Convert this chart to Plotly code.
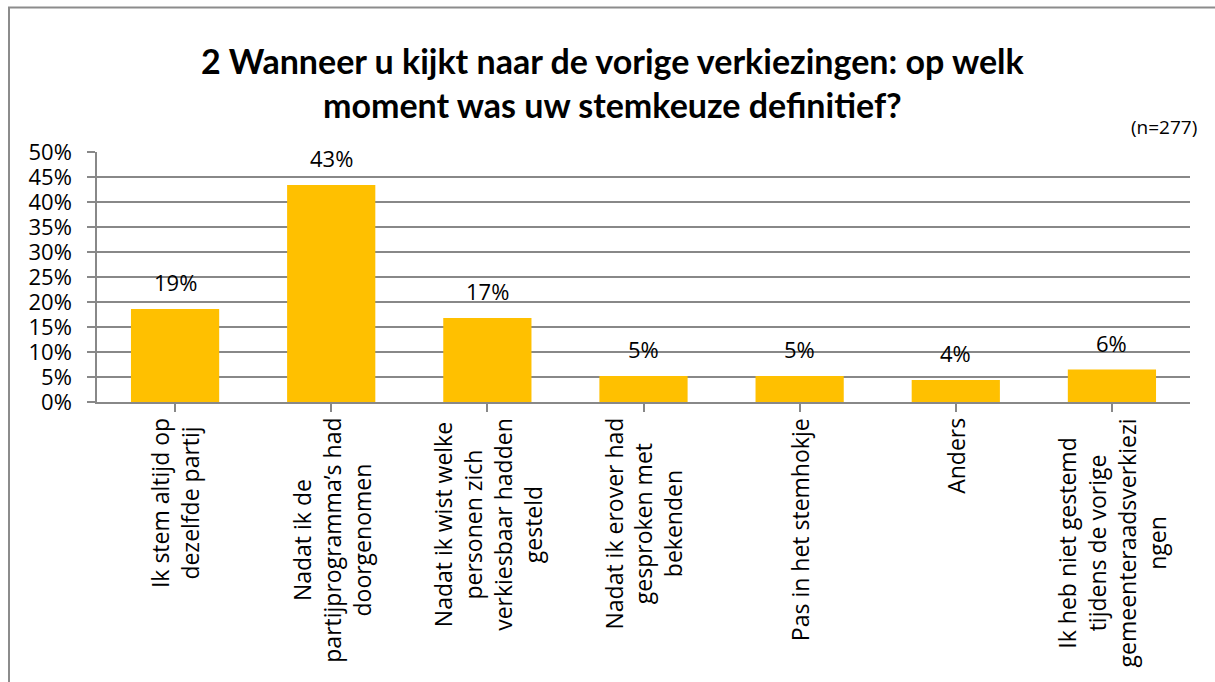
import plotly.graph_objects as go

categories = [
    "Ik stem altijd op<br>dezelfde partij",
    "Nadat ik de<br>partijprogramma’s had<br>doorgenomen",
    "Nadat ik wist welke<br>personen zich<br>verkiesbaar hadden<br>gesteld",
    "Nadat ik erover had<br>gesproken met<br>bekenden",
    "Pas in het stemhokje",
    "Anders",
    "Ik heb niet gestemd<br>tijdens de vorige<br>gemeenteraadsverkiezi<br>ngen",
]
values = [18.6, 43.4, 16.8, 5.2, 5.2, 4.4, 6.5]
labels = ["19%", "43%", "17%", "5%", "5%", "4%", "6%"]
tick_vals = [0, 5, 10, 15, 20, 25, 30, 35, 40, 45, 50]
tick_text = [f"{v}%" for v in tick_vals]

W, H = 1215, 682
L, R, T, B = 97, 25, 152, 280
pw, ph = W - L - R, H - T - B

FONT = "Open Sans"
TFONT = "Lato"
GRID = "#888888"

xs = list(range(len(categories)))

fig = go.Figure()
fig.add_trace(go.Bar(
    x=xs, y=values, marker_color="#FFC000", marker_line_width=0,
    hoverinfo="skip",
))

annotations = []
for x, v, lab in zip(xs, values, labels):
    annotations.append(dict(
        x=x, y=v, xref="x", yref="y", text=lab, showarrow=False,
        yanchor="bottom", yshift=10, font=dict(family=FONT, size=22, color="#000"),
    ))
for x, c in zip(xs, categories):
    annotations.append(dict(
        x=x, y=0, xref="x", yref="y", text=c, showarrow=False,
        textangle=-90, yanchor="top", xanchor="center", yshift=-14, align="center",
        font=dict(family=FONT, size=23, color="#000"),
    ))
annotations.append(dict(
    x=(1199 - L) / pw, y=(H - B - 127) / ph, xref="paper", yref="paper",
    text="(n=277)", showarrow=False, xanchor="right", yanchor="middle",
    font=dict(family=FONT, size=19, color="#000"),
))
annotations.append(dict(
    x=(612 - L) / pw, y=(H - B - 82) / ph, xref="paper", yref="paper",
    text="<b>2 Wanneer u kijkt naar de vorige verkiezingen: op welk<br>moment was uw stemkeuze definitief?</b>",
    showarrow=False, xanchor="center", yanchor="middle",
    font=dict(family=TFONT, size=34, color="#000"),
))

shapes = [dict(
    type="rect", xref="paper", yref="paper",
    x0=(9 - L) / pw, x1=(W + 20 - L) / pw,
    y0=(H - B - (H + 20)) / ph, y1=(H - B - 7.5) / ph,
    line=dict(color="#8c8c8c", width=2), fillcolor="rgba(0,0,0,0)", layer="below",
)]

fig.update_layout(
    width=W, height=H,
    margin=dict(l=L, r=R, t=T, b=B, pad=0),
    paper_bgcolor="white", plot_bgcolor="white",
    bargap=0.435, showlegend=False,
    annotations=annotations, shapes=shapes,
    font=dict(family=FONT, size=22, color="#000"),
)
fig.update_xaxes(
    range=[-0.5, len(categories) - 0.5], tickvals=xs, ticktext=[""] * len(xs),
    showgrid=False, showline=True, linecolor=GRID, linewidth=1.5,
    ticks="outside", tickson="boundaries", ticklen=8, tickcolor=GRID, tickwidth=1.5,
    zeroline=False, fixedrange=True,
)
fig.update_yaxes(
    range=[0, 50], tickvals=tick_vals, ticktext=tick_text,
    showgrid=True, gridcolor=GRID, gridwidth=1.5,
    showline=True, linecolor=GRID, linewidth=1.5,
    ticks="outside", ticklen=8, tickcolor=GRID, tickwidth=1.5,
    ticklabelstandoff=11,
    zeroline=False, tickfont=dict(family=FONT, size=22, color="#000"),
    fixedrange=True,
)

fig.write_html("out.html")
